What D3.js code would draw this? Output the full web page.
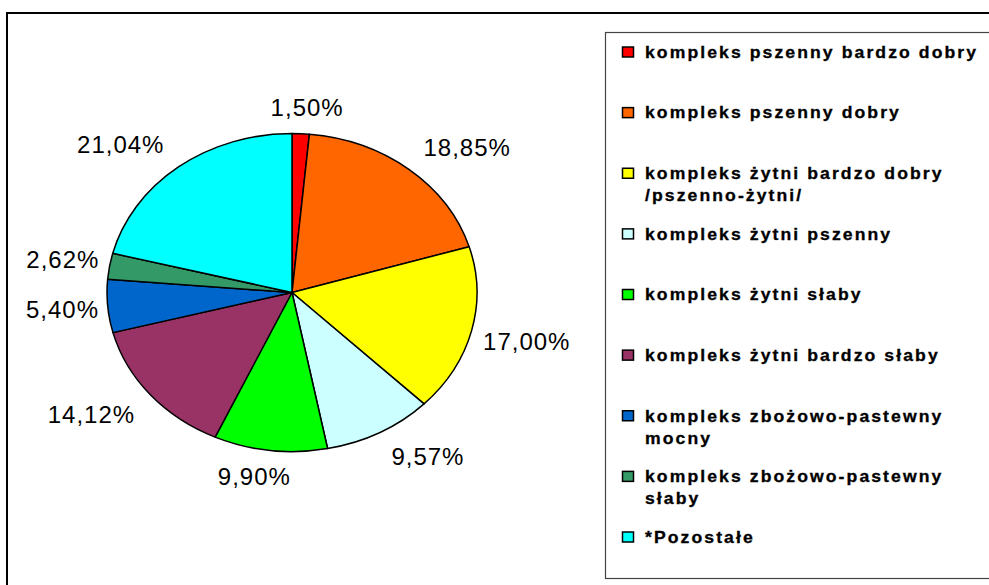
<!DOCTYPE html>
<html>
<head>
<meta charset="utf-8">
<script src="https://cdn.jsdelivr.net/npm/d3@7"></script>
<style>
  body { margin: 0; background: #fff; }
  svg { display: block; }
  .pct { font-family: "Liberation Sans", Arial, sans-serif; font-size: 24px; letter-spacing: 1px; fill: #000; }
  .leg { font-family: "Liberation Sans", Arial, sans-serif; font-size: 16px; font-weight: bold; letter-spacing: 1.9px; fill: #000; stroke: #000; stroke-width: 0.3px; }
</style>
</head>
<body>
<script>
// categories (legend lines) and shares in percent
var categories = [
    ["kompleks pszenny bardzo dobry"],
    ["kompleks pszenny dobry"],
    ["kompleks żytni bardzo dobry", "/pszenno-żytni/"],
    ["kompleks żytni pszenny"],
    ["kompleks żytni słaby"],
    ["kompleks żytni bardzo słaby"],
    ["kompleks zbożowo-pastewny", "mocny"],
    ["kompleks zbożowo-pastewny", "słaby"],
    ["*Pozostałe"]
];
var values = [1.50, 18.85, 17.00, 9.57, 9.90, 14.12, 5.40, 2.62, 21.04];
var labels = ["1,50%", "18,85%", "17,00%", "9,57%", "9,90%", "14,12%", "5,40%", "2,62%", "21,04%"];
var colors = ["#FF0000", "#FF6600", "#FFFF00", "#CCFFFF", "#00FF00", "#993366", "#0066CC", "#339966", "#00FFFF"];

var width = 989,
    height = 585;

var svg = d3.select("body").append("svg")
    .attr("width", width)
    .attr("height", height);

// chart area border (runs off right / bottom)
svg.append("rect")
    .attr("x", 7).attr("y", 13)
    .attr("width", 1000).attr("height", 600)
    .attr("fill", "none")
    .attr("stroke", "#000")
    .attr("stroke-width", 2);

// pie (ellipse: circle stretched horizontally)
var cx = 292, cy = 292.5, rx = 185, ry = 159;

var pie = d3.pie().sort(null).value(function(d) { return d; });
var arcs = pie(values);
var arc = d3.arc().innerRadius(0).outerRadius(ry);

var g = svg.append("g")
    .attr("transform", "translate(" + cx + "," + cy + ") scale(" + (rx / ry) + ",1)");

g.selectAll("path")
    .data(arcs)
    .enter().append("path")
    .attr("d", arc)
    .attr("fill", function(d, i) { return colors[i]; })
    .attr("stroke", "#000")
    .attr("stroke-width", 1.5)
    .attr("vector-effect", "non-scaling-stroke")
    .attr("stroke-linejoin", "round");

// percent labels outside the pie
function clamp(v) { return Math.max(-1, Math.min(1, v)); }
var lry = 177, lh = 17;

svg.selectAll(".pct")
    .data(arcs)
    .enter().append("text")
    .attr("class", "pct")
    .attr("text-anchor", "middle")
    .attr("dy", "0.36em")
    .text(function(d, i) { return labels[i]; })
    .each(function(d) {
        var a = (d.startAngle + d.endAngle) / 2,
            s = Math.sin(a),
            c = Math.cos(a),
            w = this.getComputedTextLength(),
            lrx = 192 + 20 * Math.abs(c);
        d3.select(this)
            .attr("x", cx + s * lrx + clamp(3 * s) * w / 2)
            .attr("y", cy - c * lry - clamp(3 * c) * lh / 2);
    });

// legend
var legend = svg.append("g");
legend.append("rect")
    .attr("x", 605.5).attr("y", 32.5)
    .attr("width", 500).attr("height", 546)
    .attr("fill", "#fff")
    .attr("stroke", "#444")
    .attr("stroke-width", 1.2);

var legY = d3.scaleLinear().domain([0, categories.length - 1]).range([52, 537]);

var item = legend.selectAll(".item")
    .data(categories)
    .enter().append("g")
    .attr("class", "item")
    .attr("transform", function(d, i) { return "translate(622," + legY(i) + ")"; });

item.append("rect")
    .attr("x", 0.5).attr("y", -5)
    .attr("width", 11).attr("height", 10)
    .attr("fill", function(d, i) { return colors[i]; })
    .attr("stroke", "#000")
    .attr("stroke-width", 1.5);

item.append("text")
    .attr("class", "leg")
    .attr("transform", "translate(23,0) scale(1.1,1)")
    .selectAll("tspan")
    .data(function(d) { return d; })
    .enter().append("tspan")
    .attr("x", 0)
    .attr("y", function(d, j) { return j * 22; })
    .attr("dy", "0.36em")
    .text(function(d) { return d; });
</script>
</body>
</html>
